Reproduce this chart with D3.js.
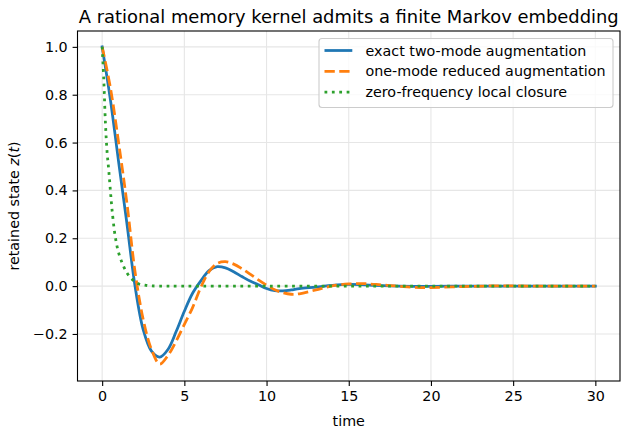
<!DOCTYPE html>
<html>
<head>
<meta charset="utf-8">
<script src="https://cdn.jsdelivr.net/npm/d3@7/dist/d3.min.js"></script>
<style>
  html, body { margin: 0; padding: 0; background: #fff; }
  svg { display: block; font-family: "DejaVu Sans", sans-serif; }
</style>
</head>
<body>
<svg id="chart" width="622" height="434"></svg>
<script>
// ---- data ----
const times = [0,0.5,1,1.5,2,2.5,3,3.5,4,4.5,5,5.5,6,6.5,7,7.5,8,8.5,9,9.5,10,10.5,11,11.5,12,13,14,15,16,17,18,19,20,22,24,26,28,30];
const exactTwoMode = [1.0,0.78,0.52,0.265,0.0,-0.183,-0.272,-0.297,-0.265,-0.19,-0.105,-0.03,0.022,0.065,0.081,0.076,0.06,0.04,0.021,0.006,-0.01,-0.019,-0.02,-0.016,-0.01,-0.004,0.003,0.007,0.005,0.002,0.0,-0.001,-0.001,0.0,0.0,0.0,0.0,0.0];
const oneModeReduced = [1.0,0.83,0.6,0.35,0.06,-0.14,-0.265,-0.326,-0.29,-0.23,-0.16,-0.09,-0.005,0.06,0.095,0.102,0.092,0.073,0.05,0.026,0.004,-0.015,-0.028,-0.034,-0.032,-0.016,0.001,0.009,0.01,0.005,0.0,-0.005,-0.006,-0.002,0.001,0.0,0.0,0.0];
const closureTimes = [0,0.1,0.2,0.3,0.4,0.5,0.6,0.8,1.0,1.2,1.5,1.8,2.2,2.6,3,4,6,10,15,20,25,30];
const zeroFreqClosure = [1.0,0.86,0.68,0.56,0.485,0.40,0.32,0.205,0.14,0.10,0.056,0.03,0.01,0.004,0.001,0,0,0,0,0,0,0];
const xTicks = [0,5,10,15,20,25,30];
const yTicks = [-0.2,0.0,0.2,0.4,0.6,0.8,1.0];
const seriesNames = ["exact two-mode augmentation","one-mode reduced augmentation","zero-frequency local closure"];
const seriesColors = ["#1f77b4","#ff7f0e","#2ca02c"];
const titleText = "A rational memory kernel admits a finite Markov embedding";
const xLabel = "time";

// ---- layout ----
const svg = d3.select("#chart");
const L = 77.5, R = 620, T = 31, B = 381;
const x = d3.scaleLinear().domain([-1.5, 31.5]).range([L, R]);
const y = d3.scaleLinear().domain([-0.3966, 1.0663]).range([B, T]);
const fmt = d => d3.format(".1f")(d).replace("-", "\u2212");
const FS = "14.3px";

svg.append("defs").append("clipPath").attr("id","clip")
  .append("rect").attr("x",L).attr("y",T).attr("width",R-L).attr("height",B-T);

// grid
const grid = svg.append("g");
grid.selectAll("line.gx").data(xTicks).join("line")
  .attr("x1", d=>x(d)).attr("x2", d=>x(d)).attr("y1",T).attr("y2",B)
  .attr("stroke","#e6e6e6").attr("stroke-width",1.1);
grid.selectAll("line.gy").data(yTicks).join("line")
  .attr("y1", d=>y(d)).attr("y2", d=>y(d)).attr("x1",L).attr("x2",R)
  .attr("stroke","#e6e6e6").attr("stroke-width",1.1);

// axes
const xAxis = d3.axisBottom(x).tickValues(xTicks).tickFormat(d3.format("d")).tickSizeInner(4.9).tickSizeOuter(0).tickPadding(4.9);
const yAxis = d3.axisLeft(y).tickValues(yTicks).tickFormat(fmt).tickSizeInner(4.9).tickSizeOuter(0).tickPadding(4.9);
const gx = svg.append("g").attr("transform",`translate(0,${B})`).call(xAxis);
const gy = svg.append("g").attr("transform",`translate(${L},0)`).call(yAxis);
[gx, gy].forEach(g => {
  g.select(".domain").remove();
  g.selectAll(".tick line").attr("stroke","#000").attr("stroke-width",1.1);
  g.selectAll(".tick text").attr("fill","#000").style("font-size",FS).style("font-family","DejaVu Sans");
});

// lines
const line = d3.line().curve(d3.curveCatmullRom.alpha(0.5)).x(d=>x(d[0])).y(d=>y(d[1]));
const plotG = svg.append("g").attr("clip-path","url(#clip)");
const series = [
  {pts: d3.zip(times, exactTwoMode), dash: null},
  {pts: d3.zip(times, oneModeReduced), dash: "10.3,4.45"},
  {pts: d3.zip(closureTimes, zeroFreqClosure), dash: "2.78,4.6"}
];
series.forEach((s,i) => {
  plotG.append("path").attr("d", line(s.pts)).attr("fill","none")
    .attr("stroke", seriesColors[i]).attr("stroke-width",2.78)
    .attr("stroke-dasharray", s.dash).attr("stroke-linecap", s.dash ? "butt" : "square")
    .attr("stroke-linejoin","round");
});

// frame
svg.append("rect").attr("x",L).attr("y",T).attr("width",R-L).attr("height",B-T)
  .attr("fill","none").attr("stroke","#000").attr("stroke-width",1.1);

// title & labels
svg.append("text").attr("x",(L+R)/2).attr("y",22.5).attr("text-anchor","middle")
  .style("font-size","17.9px").text(titleText);
svg.append("text").attr("x",(L+R)/2).attr("y",426).attr("text-anchor","middle")
  .style("font-size",FS).text(xLabel);
const yl = svg.append("text").attr("transform",`translate(19,${(T+B)/2}) rotate(-90)`)
  .attr("text-anchor","middle").style("font-size",FS);
yl.append("tspan").text("retained state ");
yl.append("tspan").style("font-style","italic").text("z");
yl.append("tspan").text("(");
yl.append("tspan").style("font-style","italic").text("t");
yl.append("tspan").text(")");

// legend
const lg = svg.append("g");
lg.append("rect").attr("x",319).attr("y",38.5).attr("width",294).attr("height",69).attr("rx",3)
  .attr("fill","#fff").attr("fill-opacity",0.8).attr("stroke","#cccccc").attr("stroke-width",1.1);
seriesNames.forEach((name,i) => {
  const cy = 50.5 + i*20.8;
  lg.append("line").attr("x1",324.5).attr("x2",352.3).attr("y1",cy).attr("y2",cy)
    .attr("stroke",seriesColors[i]).attr("stroke-width",2.78)
    .attr("stroke-dasharray", series[i].dash);
  lg.append("text").attr("x",365.5).attr("y",cy+5).style("font-size",FS).text(name);
});
</script>
</body>
</html>
